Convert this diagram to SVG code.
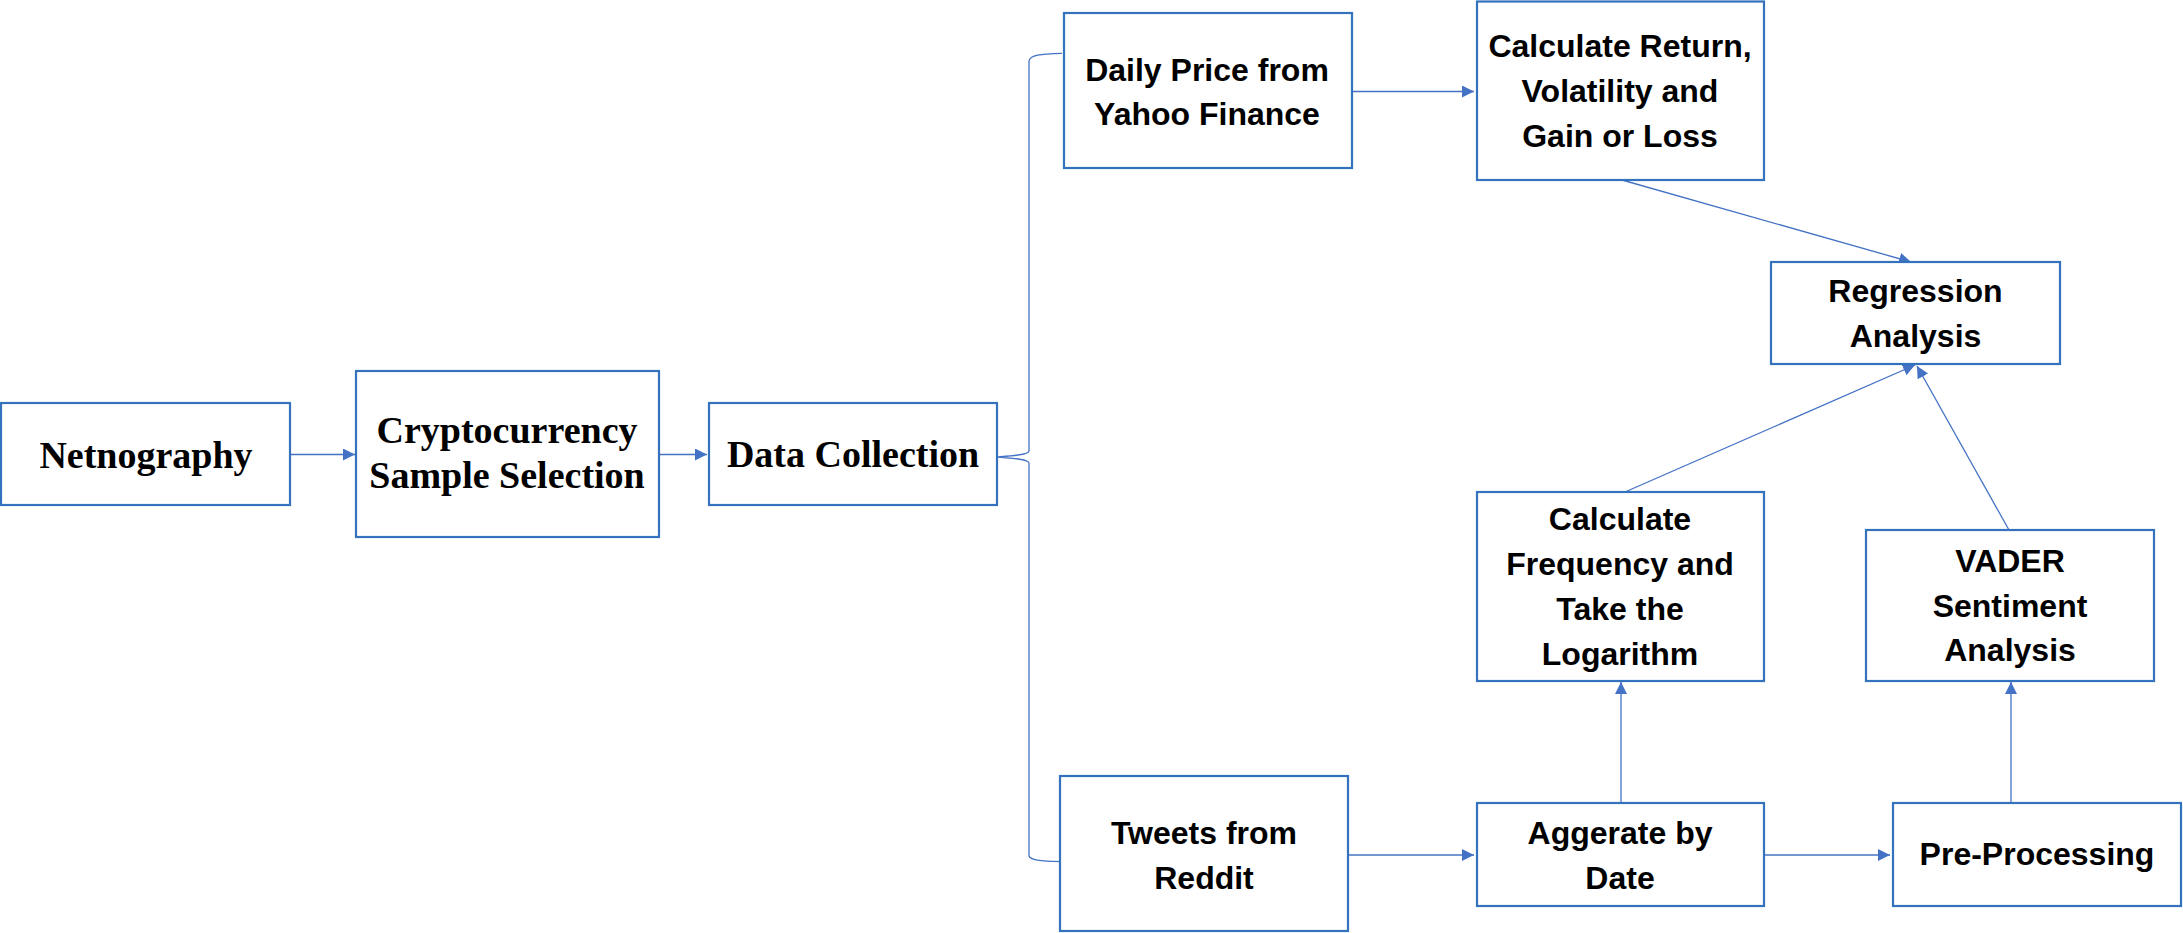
<svg xmlns="http://www.w3.org/2000/svg" width="2183" height="933" viewBox="0 0 2183 933">
<defs>
<style>
.box{fill:#fff;stroke:#3572BD;stroke-width:2.2}
.con{fill:none;stroke:#4472C4;stroke-width:1.3}
.serif{font-family:"Liberation Serif","Times New Roman",serif;font-weight:bold;font-size:38px;fill:#000;text-anchor:middle}
.sans{font-family:"Liberation Sans",Arial,sans-serif;font-weight:bold;font-size:32px;fill:#000;text-anchor:middle}
</style>
<marker id="arr" markerUnits="userSpaceOnUse" markerWidth="13" markerHeight="13" refX="12" refY="6" orient="auto">
<path d="M0,0 L12,6 L0,12 Z" fill="#4472C4"/>
</marker>
</defs>
<rect width="2183" height="933" fill="#fff"/>
<g id="connectors">
<line class="con" x1="290" y1="454.5" x2="355" y2="454.5" marker-end="url(#arr)"/>
<line class="con" x1="659" y1="454.5" x2="707" y2="454.5" marker-end="url(#arr)"/>
<line class="con" x1="1352" y1="91.5" x2="1474" y2="91.5" marker-end="url(#arr)"/>
<line class="con" x1="1348" y1="855" x2="1474" y2="855" marker-end="url(#arr)"/>
<line class="con" x1="1764" y1="855" x2="1890" y2="855" marker-end="url(#arr)"/>
<line class="con" x1="1621" y1="803" x2="1621" y2="682" marker-end="url(#arr)"/>
<line class="con" x1="2011" y1="803" x2="2011" y2="682" marker-end="url(#arr)"/>
<line class="con" x1="1622" y1="180" x2="1911" y2="262" marker-end="url(#arr)"/>
<line class="con" x1="1625" y1="492" x2="1915" y2="365" marker-end="url(#arr)"/>
<line class="con" x1="2009" y1="530" x2="1917" y2="366" marker-end="url(#arr)"/>
<path class="con" d="M1062,53.3 C1040,54 1030,55 1029,61 L1029,451 C1029,455 1010,456 997,457 C1010,458 1029,459 1029,463 L1029,856 C1030,860 1040,861 1060.7,861.7"/>
</g>
<g id="netnography">
<rect class="box" x="1" y="403" width="289" height="102"/>
<text class="serif" x="146" y="468">Netnography</text>
</g>
<g id="crypto">
<rect class="box" x="356" y="371" width="303" height="166"/>
<text class="serif" x="507" y="443">Cryptocurrency</text>
<text class="serif" x="507" y="488">Sample Selection</text>
</g>
<g id="datacollection">
<rect class="box" x="709" y="403" width="288" height="102"/>
<text class="serif" x="853" y="467">Data Collection</text>
</g>
<g id="dailyprice">
<rect class="box" x="1064" y="13" width="288" height="155"/>
<text class="sans" x="1207" y="81">Daily Price from</text>
<text class="sans" x="1207" y="124.5">Yahoo Finance</text>
</g>
<g id="calcreturn">
<rect class="box" x="1477" y="1.5" width="287" height="178.5"/>
<text class="sans" x="1620" y="57">Calculate Return,</text>
<text class="sans" x="1620" y="102">Volatility and</text>
<text class="sans" x="1620" y="147">Gain or Loss</text>
</g>
<g id="regression">
<rect class="box" x="1771" y="262" width="289" height="102"/>
<text class="sans" x="1915.5" y="302">Regression</text>
<text class="sans" x="1915.5" y="347">Analysis</text>
</g>
<g id="calcfreq">
<rect class="box" x="1477" y="492" width="287" height="189"/>
<text class="sans" x="1620" y="530">Calculate</text>
<text class="sans" x="1620" y="575">Frequency and</text>
<text class="sans" x="1620" y="620">Take the</text>
<text class="sans" x="1620" y="665">Logarithm</text>
</g>
<g id="vader">
<rect class="box" x="1866" y="530" width="288" height="151"/>
<text class="sans" x="2010" y="572">VADER</text>
<text class="sans" x="2010" y="617">Sentiment</text>
<text class="sans" x="2010" y="661">Analysis</text>
</g>
<g id="tweets">
<rect class="box" x="1060" y="776" width="288" height="155"/>
<text class="sans" x="1204" y="844">Tweets from</text>
<text class="sans" x="1204" y="889">Reddit</text>
</g>
<g id="aggerate">
<rect class="box" x="1477" y="803" width="287" height="103"/>
<text class="sans" x="1620" y="844">Aggerate by</text>
<text class="sans" x="1620" y="889">Date</text>
</g>
<g id="preprocessing">
<rect class="box" x="1893" y="803" width="288" height="103"/>
<text class="sans" x="2037" y="865">Pre-Processing</text>
</g>
</svg>
